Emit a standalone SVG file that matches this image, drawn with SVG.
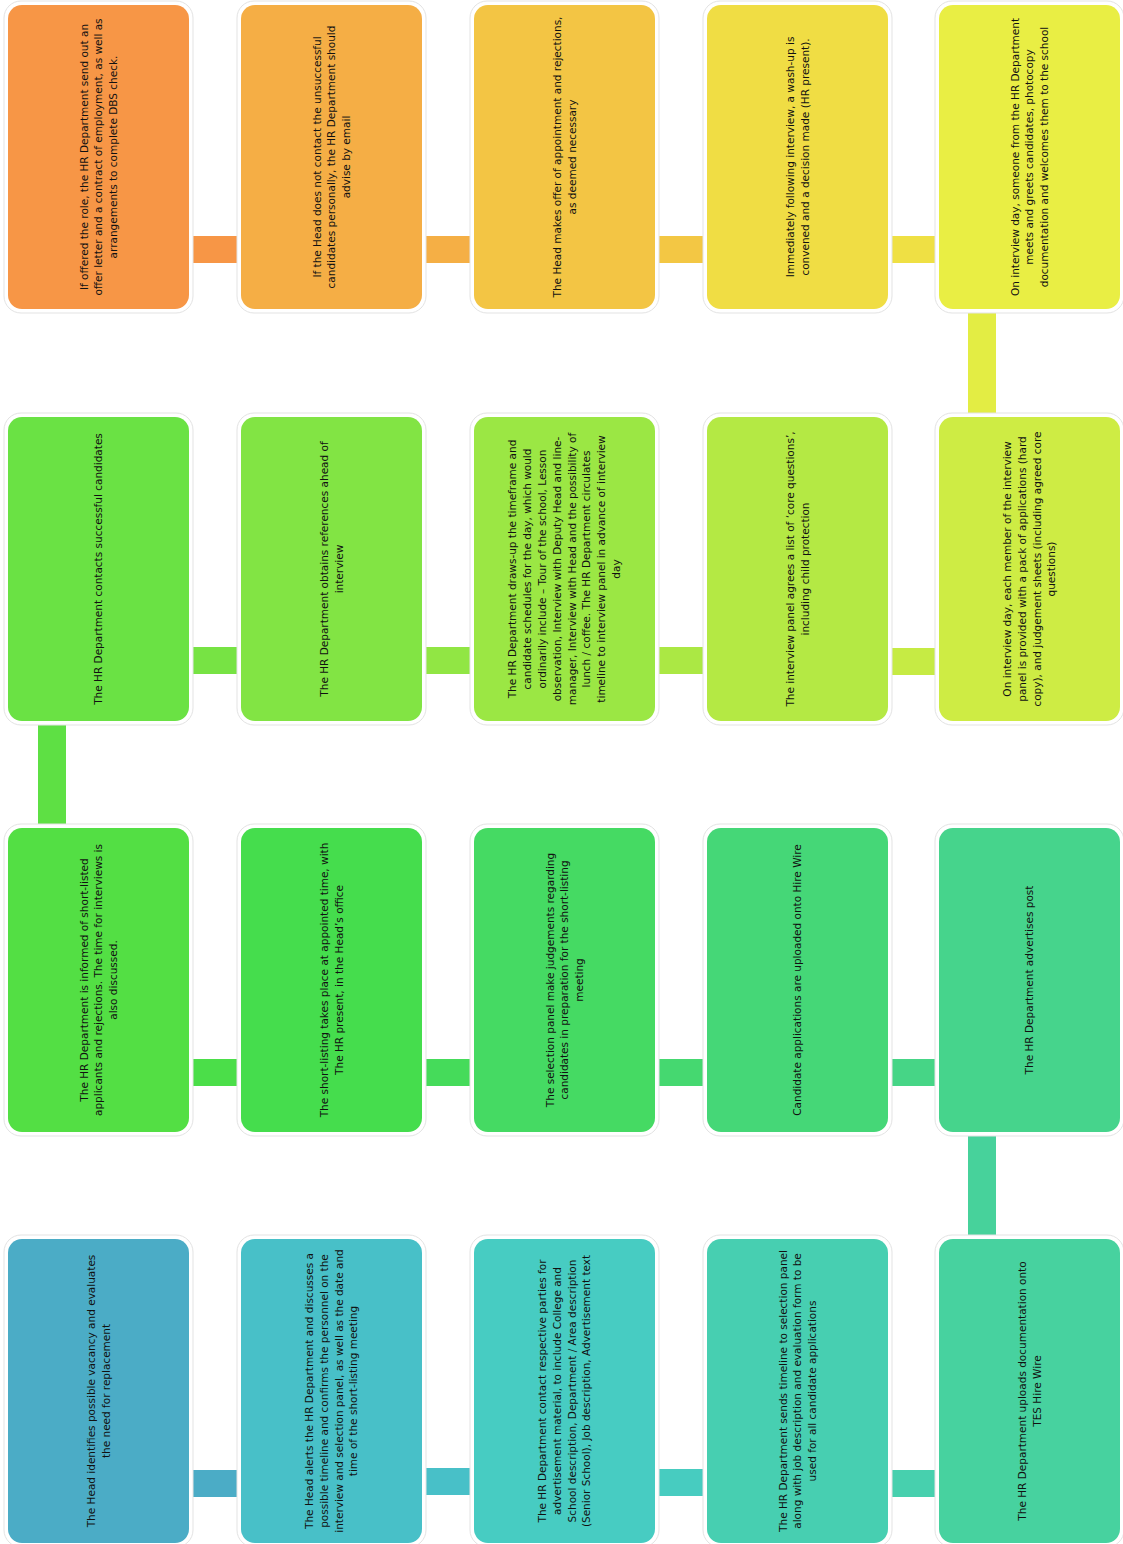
<svg xmlns="http://www.w3.org/2000/svg" width="1123" height="1544" viewBox="0 0 1123 1544">
<style>
.outer{fill:#ffffff;stroke:#e3e3e3;stroke-width:1}
.t{font-family:"DejaVu Sans","Liberation Sans",sans-serif;font-size:10.5px;fill:#111111;text-anchor:middle}
</style>
<rect width="1123" height="1544" fill="#ffffff"/>
<g id="connectors">
<rect x="180" y="1470" width="70" height="27" fill="#4BACC6"/>
<rect x="413" y="1468" width="70" height="27" fill="#48C0C8"/>
<rect x="646" y="1469" width="70" height="27" fill="#47CCC0"/>
<rect x="879" y="1470" width="70" height="27" fill="#47D0AE"/>
<rect x="968" y="1125" width="28" height="125" fill="#47D29B"/>
<rect x="879" y="1059" width="70" height="27" fill="#46D586"/>
<rect x="646" y="1059" width="70" height="27" fill="#45D870"/>
<rect x="413" y="1059" width="70" height="27" fill="#45DB5A"/>
<rect x="180" y="1059" width="70" height="27" fill="#4BDE49"/>
<rect x="38" y="712" width="28" height="125" fill="#5EE044"/>
<rect x="180" y="647" width="70" height="27" fill="#77E344"/>
<rect x="413" y="647" width="70" height="27" fill="#91E644"/>
<rect x="646" y="647" width="70" height="27" fill="#ABE844"/>
<rect x="879" y="648" width="70" height="27" fill="#C6EB44"/>
<rect x="968" y="300" width="28" height="125" fill="#E3ED44"/>
<rect x="879" y="236" width="70" height="27" fill="#EFE044"/>
<rect x="646" y="236" width="70" height="27" fill="#F3C744"/>
<rect x="413" y="236" width="70" height="27" fill="#F5AF45"/>
<rect x="180" y="236" width="70" height="27" fill="#F79646"/>
</g>

<g id="node0">
<rect class="outer" x="4" y="1235" width="189" height="312" rx="17"/>
<rect x="8" y="1239" width="181" height="304" rx="14" fill="#4BACC6"/>
<text class="t" transform="translate(98.5 1391) rotate(-90)"><tspan x="0" y="-3.65">The Head identifies possible vacancy and evaluates</tspan><tspan x="0" y="11.05">the need for replacement</tspan></text>
</g>
<g id="node1">
<rect class="outer" x="237" y="1235" width="189" height="312" rx="17"/>
<rect x="241" y="1239" width="181" height="304" rx="14" fill="#48C0C8"/>
<text class="t" transform="translate(331.5 1391) rotate(-90)"><tspan x="0" y="-18.35">The Head alerts the HR Department and discusses a</tspan><tspan x="0" y="-3.65">possible timeline and confirms the personnel on the</tspan><tspan x="0" y="11.05">interview and selection panel, as well as the date and</tspan><tspan x="0" y="25.75">time of the short-listing meeting</tspan></text>
</g>
<g id="node2">
<rect class="outer" x="470" y="1235" width="189" height="312" rx="17"/>
<rect x="474" y="1239" width="181" height="304" rx="14" fill="#47CCC2"/>
<text class="t" transform="translate(564.5 1391) rotate(-90)"><tspan x="0" y="-18.35">The HR Department contact respective parties for</tspan><tspan x="0" y="-3.65">advertisement material, to include College and</tspan><tspan x="0" y="11.05">School description, Department / Area description</tspan><tspan x="0" y="25.75">(Senior School), Job description, Advertisement text</tspan></text>
</g>
<g id="node3">
<rect class="outer" x="703" y="1235" width="189" height="312" rx="17"/>
<rect x="707" y="1239" width="181" height="304" rx="14" fill="#47CFB1"/>
<text class="t" transform="translate(797.5 1391) rotate(-90)"><tspan x="0" y="-11">The HR Department sends timeline to selection panel</tspan><tspan x="0" y="3.7">along with job description and evaluation form to be</tspan><tspan x="0" y="18.4">used for all candidate applications</tspan></text>
</g>
<g id="node4">
<rect class="outer" x="935" y="1235" width="189" height="312" rx="17"/>
<rect x="939" y="1239" width="181" height="304" rx="14" fill="#47D29F"/>
<text class="t" transform="translate(1029.5 1391) rotate(-90)"><tspan x="0" y="-3.65">The HR Department uploads documentation onto</tspan><tspan x="0" y="11.05">TES Hire Wire</tspan></text>
</g>

<g id="node5">
<rect class="outer" x="935" y="824" width="189" height="312" rx="17"/>
<rect x="939" y="828" width="181" height="304" rx="14" fill="#46D48C"/>
<text class="t" transform="translate(1029.5 980) rotate(-90)"><tspan x="0" y="3.7">The HR Department advertises post</tspan></text>
</g>
<g id="node6">
<rect class="outer" x="703" y="824" width="189" height="312" rx="17"/>
<rect x="707" y="828" width="181" height="304" rx="14" fill="#45D777"/>
<text class="t" transform="translate(797.5 980) rotate(-90)"><tspan x="0" y="3.7">Candidate applications are uploaded onto Hire Wire</tspan></text>
</g>
<g id="node7">
<rect class="outer" x="470" y="824" width="189" height="312" rx="17"/>
<rect x="474" y="828" width="181" height="304" rx="14" fill="#45DA63"/>
<text class="t" transform="translate(564.5 980) rotate(-90)"><tspan x="0" y="-11">The selection panel make judgements regarding</tspan><tspan x="0" y="3.7">candidates in preparation for the short-listing</tspan><tspan x="0" y="18.4">meeting</tspan></text>
</g>
<g id="node8">
<rect class="outer" x="237" y="824" width="189" height="312" rx="17"/>
<rect x="241" y="828" width="181" height="304" rx="14" fill="#45DD4D"/>
<text class="t" transform="translate(331.5 980) rotate(-90)"><tspan x="0" y="-3.65">The short-listing takes place at appointed time, with</tspan><tspan x="0" y="11.05">The HR present, in the Head’s office</tspan></text>
</g>
<g id="node9">
<rect class="outer" x="4" y="824" width="189" height="312" rx="17"/>
<rect x="8" y="828" width="181" height="304" rx="14" fill="#53DF44"/>
<text class="t" transform="translate(98.5 980) rotate(-90)"><tspan x="0" y="-11">The HR Department is informed of short-listed</tspan><tspan x="0" y="3.7">applicants and rejections. The time for interviews is</tspan><tspan x="0" y="18.4">also discussed.</tspan></text>
</g>

<g id="node10">
<rect class="outer" x="4" y="413" width="189" height="312" rx="17"/>
<rect x="8" y="417" width="181" height="304" rx="14" fill="#6AE244"/>
<text class="t" transform="translate(98.5 569) rotate(-90)"><tspan x="0" y="3.7">The HR Department contacts successful candidates</tspan></text>
</g>
<g id="node11">
<rect class="outer" x="237" y="413" width="189" height="312" rx="17"/>
<rect x="241" y="417" width="181" height="304" rx="14" fill="#82E444"/>
<text class="t" transform="translate(331.5 569) rotate(-90)"><tspan x="0" y="-3.65">The HR Department obtains references ahead of</tspan><tspan x="0" y="11.05">interview</tspan></text>
</g>
<g id="node12">
<rect class="outer" x="470" y="413" width="189" height="312" rx="17"/>
<rect x="474" y="417" width="181" height="304" rx="14" fill="#9BE744"/>
<text class="t" transform="translate(564.5 569) rotate(-90)"><tspan x="0" y="-48.1">The HR Department draws-up the timeframe and</tspan><tspan x="0" y="-33.3">candidate schedules for the day, which would</tspan><tspan x="0" y="-18.5">ordinarily include – Tour of the school, Lesson</tspan><tspan x="0" y="-3.7">observation, Interview with Deputy Head and line-</tspan><tspan x="0" y="11.1">manager, Interview with Head and the possibility of</tspan><tspan x="0" y="25.9">lunch / coffee. The HR Department circulates</tspan><tspan x="0" y="40.7">timeline to interview panel in advance of interview</tspan><tspan x="0" y="55.5">day</tspan></text>
</g>
<g id="node13">
<rect class="outer" x="703" y="413" width="189" height="312" rx="17"/>
<rect x="707" y="417" width="181" height="304" rx="14" fill="#B4E944"/>
<text class="t" transform="translate(797.5 569) rotate(-90)"><tspan x="0" y="-3.65">The interview panel agrees a list of ‘core questions’,</tspan><tspan x="0" y="11.05">including child protection</tspan></text>
</g>
<g id="node14">
<rect class="outer" x="935" y="413" width="189" height="312" rx="17"/>
<rect x="939" y="417" width="181" height="304" rx="14" fill="#CEEC44"/>
<text class="t" transform="translate(1029.5 569) rotate(-90)"><tspan x="0" y="-18.35">On interview day, each member of the interview</tspan><tspan x="0" y="-3.65">panel is provided with a pack of applications (hard</tspan><tspan x="0" y="11.05">copy), and judgement sheets (including agreed core</tspan><tspan x="0" y="25.75">questions)</tspan></text>
</g>

<g id="node15">
<rect class="outer" x="935" y="1" width="189" height="312" rx="17"/>
<rect x="939" y="5" width="181" height="304" rx="14" fill="#E9EE44"/>
<text class="t" transform="translate(1029.5 157) rotate(-90)"><tspan x="0" y="-11">On interview day, someone from the HR Department</tspan><tspan x="0" y="3.7">meets and greets candidates, photocopy</tspan><tspan x="0" y="18.4">documentation and welcomes them to the school</tspan></text>
</g>
<g id="node16">
<rect class="outer" x="703" y="1" width="189" height="312" rx="17"/>
<rect x="707" y="5" width="181" height="304" rx="14" fill="#F0DD44"/>
<text class="t" transform="translate(797.5 157) rotate(-90)"><tspan x="0" y="-3.65">Immediately following interview, a wash-up is</tspan><tspan x="0" y="11.05">convened and a decision made (HR present).</tspan></text>
</g>
<g id="node17">
<rect class="outer" x="470" y="1" width="189" height="312" rx="17"/>
<rect x="474" y="5" width="181" height="304" rx="14" fill="#F3C544"/>
<text class="t" transform="translate(564.5 157) rotate(-90)"><tspan x="0" y="-3.65">The Head makes offer of appointment and rejections,</tspan><tspan x="0" y="11.05">as deemed necessary</tspan></text>
</g>
<g id="node18">
<rect class="outer" x="237" y="1" width="189" height="312" rx="17"/>
<rect x="241" y="5" width="181" height="304" rx="14" fill="#F5AE45"/>
<text class="t" transform="translate(331.5 157) rotate(-90)"><tspan x="0" y="-11">If the Head does not contact the unsuccessful</tspan><tspan x="0" y="3.7">candidates personally, the HR Department should</tspan><tspan x="0" y="18.4">advise by email</tspan></text>
</g>
<g id="node19">
<rect class="outer" x="4" y="1" width="189" height="312" rx="17"/>
<rect x="8" y="5" width="181" height="304" rx="14" fill="#F79646"/>
<text class="t" transform="translate(98.5 157) rotate(-90)"><tspan x="0" y="-11">If offered the role, the HR Department send out an</tspan><tspan x="0" y="3.7">offer letter and a contract of employment, as well as</tspan><tspan x="0" y="18.4">arrangements to complete DBS check.</tspan></text>
</g>
</svg>
